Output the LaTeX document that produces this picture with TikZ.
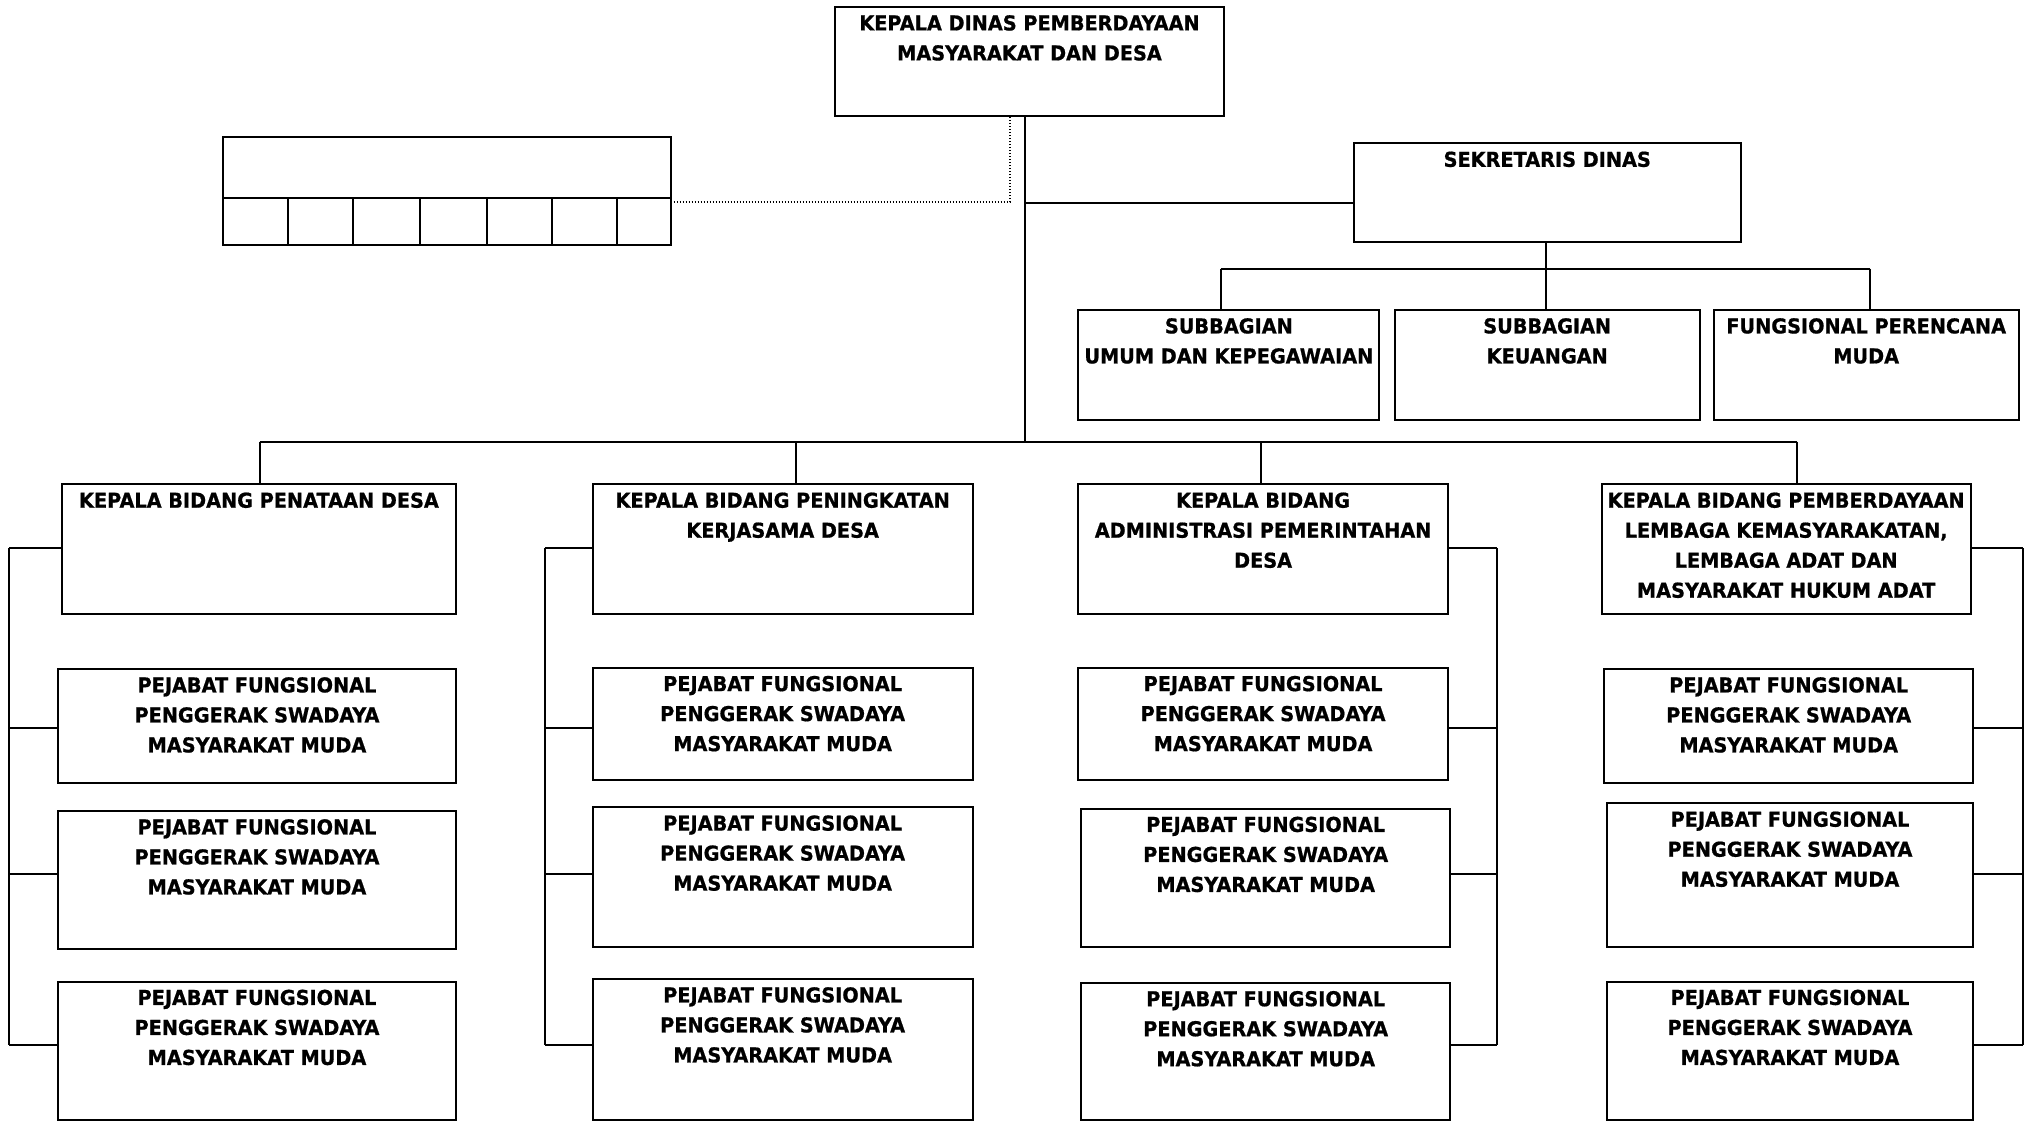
\documentclass[tikz,border=0pt]{standalone}
\usepackage{fontspec}
\setmainfont{DejaVu Sans}[FakeStretch=0.94, BoldFeatures={FakeBold=0.8}]
\begin{document}
\begin{tikzpicture}[x=1pt,y=-1pt,
  ln/.style={line width=2pt},
  dotline/.style={line width=1.8pt,dash pattern=on 1.6pt off 1.4pt},
  bx/.style={draw,line width=2pt,inner sep=0pt,outer sep=0pt,anchor=north west},
  tx/.style={inner sep=0pt,anchor=north,align=center,font=\bfseries\fontsize{20.5}{30}\selectfont}]
\useasboundingbox[fill=white] (0,0) rectangle (2025,1121);
\newcommand\orgbox[6]{%
  \pgfmathsetmacro\obW{#4-#2}\pgfmathsetmacro\obH{#5-#3}%
  \node[bx,minimum width=\obW pt,minimum height=\obH pt] (#1) at (#2,#3) {};
  \node[tx] (#1-t) at ([yshift=-8pt]#1.north) {#6};}
\def\PF{PEJABAT FUNGSIONAL\\PENGGERAK SWADAYA\\MASYARAKAT MUDA}
% top
\orgbox{top}{835}{7}{1224}{116}{KEPALA DINAS PEMBERDAYAAN\\MASYARAKAT DAN DESA}
\orgbox{sek}{1353.5}{143.4}{1741}{241.5}{SEKRETARIS DINAS}
\orgbox{sub1}{1078.4}{310}{1379.3}{419.7}{SUBBAGIAN\\UMUM DAN KEPEGAWAIAN}
\orgbox{sub2}{1394.8}{310}{1699.6}{419.7}{SUBBAGIAN\\KEUANGAN}
\orgbox{sub3}{1713.8}{310}{2018.6}{419.7}{FUNGSIONAL PERENCANA\\MUDA}
% left empty box
\orgbox{lbt}{223}{137}{670.5}{197.6}{}
\orgbox{c1}{223}{197.6}{287.8}{245.4}{}
\orgbox{c2}{287.8}{197.6}{353.4}{245.4}{}
\orgbox{c3}{353.4}{197.6}{420}{245.4}{}
\orgbox{c4}{420}{197.6}{486.7}{245.4}{}
\orgbox{c5}{486.7}{197.6}{551.8}{245.4}{}
\orgbox{c6}{551.8}{197.6}{616.8}{245.4}{}
\orgbox{c7}{616.8}{197.6}{670.5}{245.4}{}
% kepala bidang
\orgbox{kb1}{62}{484.3}{455.9}{613.5}{KEPALA BIDANG PENATAAN DESA}
\orgbox{kb2}{592.8}{484.3}{972.5}{613.5}{KEPALA BIDANG PENINGKATAN\\KERJASAMA DESA}
\orgbox{kb3}{1078.4}{484.3}{1447.8}{613.5}{KEPALA BIDANG\\ADMINISTRASI PEMERINTAHAN\\DESA}
\orgbox{kb4}{1601.5}{484.3}{1970.8}{613.5}{KEPALA BIDANG PEMBERDAYAAN\\LEMBAGA KEMASYARAKATAN,\\LEMBAGA ADAT DAN\\MASYARAKAT HUKUM ADAT}
% pejabat fungsional
\orgbox{pf11}{58.1}{669}{455.9}{782.6}{\PF}
\orgbox{pf12}{58.1}{811}{455.9}{949.3}{\PF}
\orgbox{pf13}{58.1}{981.5}{455.9}{1120}{\PF}
\orgbox{pf21}{592.8}{667.7}{972.5}{780}{\PF}
\orgbox{pf22}{592.8}{807.2}{972.5}{946.7}{\PF}
\orgbox{pf23}{592.8}{979}{972.5}{1120}{\PF}
\orgbox{pf31}{1078.4}{667.7}{1447.8}{780}{\PF}
\orgbox{pf32}{1081}{808.5}{1450.4}{946.7}{\PF}
\orgbox{pf33}{1081}{982.8}{1450.4}{1120}{\PF}
\orgbox{pf41}{1604}{669}{1973.4}{782.6}{\PF}
\orgbox{pf42}{1606.6}{803.3}{1973.4}{946.7}{\PF}
\orgbox{pf43}{1606.6}{981.5}{1973.4}{1120}{\PF}
% connectors top
\coordinate (jS) at (1025,202.7);
\coordinate (jA) at (1025,441.7);
\draw[ln] (top.south -| jA) -- (jA);
\draw[ln] (jS) -- (jS -| sek.west);
\coordinate (dk) at (1010,201.7);
\draw[dotline] (dk -| c7.east) -- (dk) -- (dk |- top.south);
% sekretaris tree
\coordinate (d1) at (1220.5,268.6);
\coordinate (d2) at (1546,268.6);
\coordinate (d3) at (1870,268.6);
\draw[ln] (d2 |- sek.south) -- (d2);
\draw[ln] (d1) -- (d3);
\draw[ln] (d1) -- (d1 |- sub1.north);
\draw[ln] (d2) -- (d2 |- sub2.north);
\draw[ln] (d3) -- (d3 |- sub3.north);
% main bus
\coordinate (b1) at (259.6,441.7);
\coordinate (b2) at (795.6,441.7);
\coordinate (b3) at (1260.5,441.7);
\coordinate (b4) at (1796.5,441.7);
\draw[ln] (b1) -- (b4);
\draw[ln] (b1) -- (b1 |- kb1.north);
\draw[ln] (b2) -- (b2 |- kb2.north);
\draw[ln] (b3) -- (b3 |- kb3.north);
\draw[ln] (b4) -- (b4 |- kb4.north);
% brackets
\foreach \col/\xx/\side in {1/9.3/west,2/545/west,3/1497/east,4/2022.5/east}{
  \coordinate (r\col a) at (\xx,548.3);
  \coordinate (r\col b) at (\xx,727.7);
  \coordinate (r\col c) at (\xx,874.3);
  \coordinate (r\col d) at (\xx,1044.8);
  \draw[ln] (r\col a) -- (r\col d);
  \draw[ln] (r\col a) -- (r\col a -| kb\col.\side);
  \draw[ln] (r\col b) -- (r\col b -| pf\col 1.\side);
  \draw[ln] (r\col c) -- (r\col c -| pf\col 2.\side);
  \draw[ln] (r\col d) -- (r\col d -| pf\col 3.\side);
}
\end{tikzpicture}
\end{document}
